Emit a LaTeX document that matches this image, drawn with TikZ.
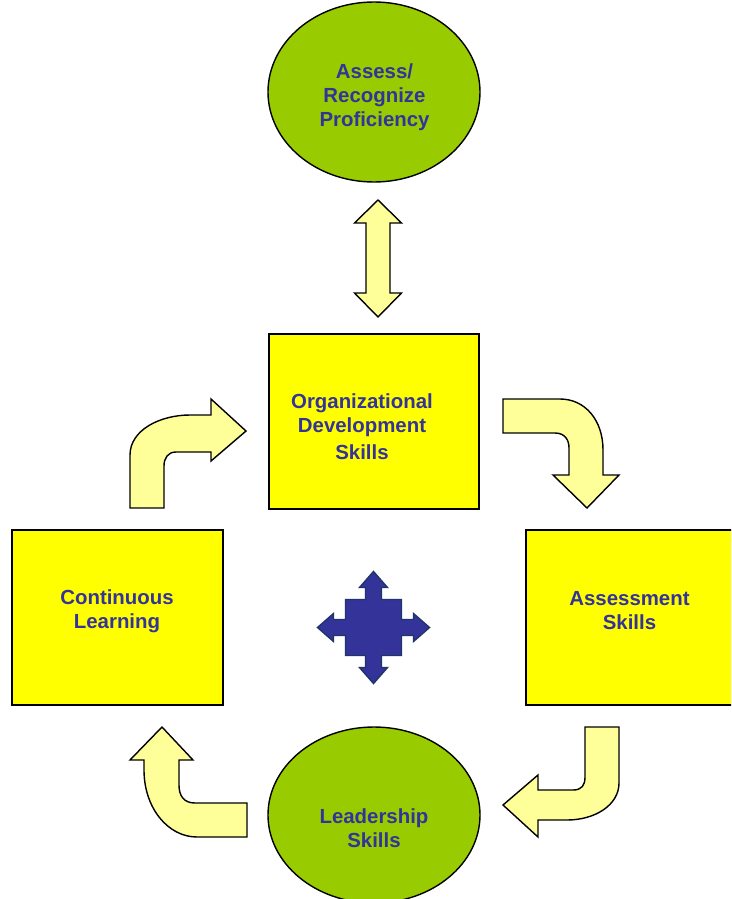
\documentclass[tikz,border=0pt]{standalone}
\usepackage{fontspec}
\setmainfont{Liberation Sans}
\usetikzlibrary{shapes.geometric}
\definecolor{txtblue}{HTML}{333399}
\definecolor{ovalgreen}{HTML}{99CC00}
\definecolor{boxyellow}{HTML}{FFFF00}
\definecolor{arrowyellow}{HTML}{FFFF99}
\definecolor{crossblue}{HTML}{333399}
\definecolor{crossedge}{HTML}{1F3468}
\begin{document}
\begin{tikzpicture}[x=1pt,y=-1pt,
  greenell/.style={ellipse, draw=black, line width=1.4pt, fill=ovalgreen, minimum width=212pt, minimum height=180pt, inner sep=0pt},
  yelbox/.style={rectangle, draw=black, line width=2pt, fill=boxyellow, minimum width=210pt, minimum height=175pt, inner sep=0pt},
  lbl/.style={text=txtblue, font=\fontsize{20.4}{24}\selectfont\bfseries, align=center, inner sep=0pt},
  bentarrow/.style={draw=black, line width=1.4pt, fill=arrowyellow, line join=miter},
  crossstyle/.style={draw=crossedge, line width=1.4pt, fill=crossblue, line join=miter}]
\useasboundingbox (0,0) rectangle (731,899);
\fill[white] (0,0) rectangle (731,899);
\begin{scope}
\clip (0,0) rectangle (731,899);
% ovals and boxes
\node[greenell] (assess) at (374,92) {};
\node[lbl] (assesstxt) at (374.5,97) {Assess/\\Recognize\\Proficiency};
\node[yelbox] (org) at (374,421.5) {};
\node[lbl] (orgtxt) at (362,427) {Organizational\\Development\\[3pt]Skills};
\node[yelbox, minimum width=210.5pt] (cont) at (117.25,617.5) {};
\node[lbl] (conttxt) at (117,611) {Continuous\\Learning};
\node[yelbox, minimum width=214pt] (asmt) at (633,617.5) {};
\node[lbl] (asmttxt) at (629.5,611) {Assessment\\Skills};
\node[greenell, minimum height=176pt] (lead) at (374,815) {};
\node[lbl] (leadtxt) at (374,828.5) {Leadership\\Skills};
% double arrow
\draw[bentarrow] (378,200) -- (401.5,223) -- (390,223) -- (390,293) -- (401.5,293) -- (378,317)
  -- (354.5,293) -- (366,293) -- (366,223) -- (354.5,223) -- cycle;
% bent arrows
\draw[bentarrow] (130,508) -- (130,455) .. controls (130,430) and (160,415) .. (190,415) -- (211,415)
  -- (211,399) -- (246,431) -- (211,461) -- (211,452) -- (176,452)
  .. controls (168,452) and (164,458) .. (164,466) -- (164,508) -- cycle;
\draw[bentarrow] (503,399) -- (560,399) .. controls (585,399) and (603,420) .. (603,450) -- (603,475)
  -- (619,475) -- (587,508) -- (553,475) -- (569,475) -- (569,448)
  .. controls (569,440) and (565,433) .. (555,433) -- (503,433) -- cycle;
\draw[bentarrow] (585,727) -- (619,727) -- (619,783) .. controls (619,805) and (595,820) .. (567,820)
  -- (538,820) -- (538,837) -- (503,805) -- (538,775) -- (538,790) -- (573,790)
  .. controls (582,790) and (585,785) .. (585,777) -- cycle;
\draw[bentarrow] (247,837) -- (197,837) .. controls (168,837) and (144,808) .. (144,770) -- (144,760)
  -- (130,760) -- (162,727) -- (193,760) -- (179,760) -- (179,785)
  .. controls (179,796) and (184,803) .. (195,803) -- (247,803) -- cycle;
% central cross
\begin{scope}[shift={(373.5,627.5)}]
\draw[crossstyle] (-8,-28) -- (-8,-40) -- (-14,-40) -- (0,-56) -- (14,-40) -- (8,-40) -- (8,-28)
  -- (28,-28) -- (28,-8) -- (40,-8) -- (40,-14) -- (56,0) -- (40,14) -- (40,8) -- (28,8)
  -- (28,28) -- (8,28) -- (8,40) -- (14,40) -- (0,56) -- (-14,40) -- (-8,40) -- (-8,28)
  -- (-28,28) -- (-28,8) -- (-40,8) -- (-40,14) -- (-56,0) -- (-40,-14) -- (-40,-8) -- (-28,-8)
  -- (-28,-28) -- cycle;
\end{scope}
\end{scope}
\end{tikzpicture}
\end{document}
